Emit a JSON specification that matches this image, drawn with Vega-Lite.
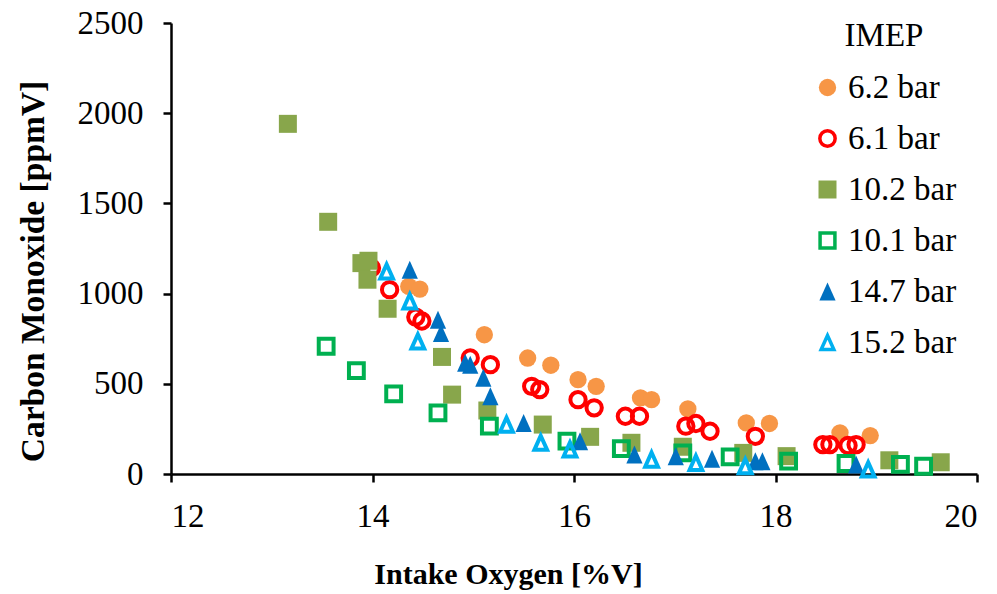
{
  "$schema": "https://vega.github.io/schema/vega-lite/v6.json",
  "width": 806,
  "height": 451,
  "autosize": {"type": "none"},
  "padding": {"left": 171, "top": 23, "right": 20, "bottom": 120},
  "background": "white",
  "config": {
    "view": {"stroke": null},
    "font": "Liberation Serif",
    "axis": {"grid": false, "domainColor": "black", "domainWidth": 2.5, "tickColor": "black", "tickWidth": 2.5, "tickSize": 8, "labelColor": "black", "titleColor": "black", "labelFont": "Liberation Serif", "titleFont": "Liberation Serif", "labelFontSize": 33, "titleFontWeight": "bold"},
    "legend": {"labelFont": "Liberation Serif", "titleFont": "Liberation Serif", "labelColor": "black", "titleColor": "black"}
  },
  "data": {"values": [
    {"imep": "6.2 bar", "o2": 14.36, "co": 1040},
    {"imep": "6.2 bar", "o2": 14.47, "co": 1025},
    {"imep": "6.2 bar", "o2": 15.11, "co": 772},
    {"imep": "6.2 bar", "o2": 15.54, "co": 643},
    {"imep": "6.2 bar", "o2": 15.77, "co": 603},
    {"imep": "6.2 bar", "o2": 16.04, "co": 523},
    {"imep": "6.2 bar", "o2": 16.22, "co": 486},
    {"imep": "6.2 bar", "o2": 16.66, "co": 422},
    {"imep": "6.2 bar", "o2": 16.77, "co": 412},
    {"imep": "6.2 bar", "o2": 17.13, "co": 361},
    {"imep": "6.2 bar", "o2": 17.71, "co": 283},
    {"imep": "6.2 bar", "o2": 17.94, "co": 280},
    {"imep": "6.2 bar", "o2": 18.64, "co": 228},
    {"imep": "6.2 bar", "o2": 18.94, "co": 213},
    {"imep": "6.1 bar", "o2": 13.99, "co": 1142},
    {"imep": "6.1 bar", "o2": 14.17, "co": 1022},
    {"imep": "6.1 bar", "o2": 14.43, "co": 870},
    {"imep": "6.1 bar", "o2": 14.49, "co": 848},
    {"imep": "6.1 bar", "o2": 14.97, "co": 643},
    {"imep": "6.1 bar", "o2": 15.17, "co": 606},
    {"imep": "6.1 bar", "o2": 15.58, "co": 486},
    {"imep": "6.1 bar", "o2": 15.66, "co": 468},
    {"imep": "6.1 bar", "o2": 16.04, "co": 412},
    {"imep": "6.1 bar", "o2": 16.2, "co": 367},
    {"imep": "6.1 bar", "o2": 16.51, "co": 320},
    {"imep": "6.1 bar", "o2": 16.65, "co": 320},
    {"imep": "6.1 bar", "o2": 17.11, "co": 265},
    {"imep": "6.1 bar", "o2": 17.21, "co": 280},
    {"imep": "6.1 bar", "o2": 17.35, "co": 237},
    {"imep": "6.1 bar", "o2": 17.8, "co": 209},
    {"imep": "6.1 bar", "o2": 18.47, "co": 163},
    {"imep": "6.1 bar", "o2": 18.54, "co": 163},
    {"imep": "6.1 bar", "o2": 18.72, "co": 158},
    {"imep": "6.1 bar", "o2": 18.8, "co": 163},
    {"imep": "10.2 bar", "o2": 13.16, "co": 1941},
    {"imep": "10.2 bar", "o2": 13.56, "co": 1398},
    {"imep": "10.2 bar", "o2": 13.89, "co": 1169},
    {"imep": "10.2 bar", "o2": 13.96, "co": 1182},
    {"imep": "10.2 bar", "o2": 13.95, "co": 1077},
    {"imep": "10.2 bar", "o2": 14.15, "co": 916},
    {"imep": "10.2 bar", "o2": 14.69, "co": 649},
    {"imep": "10.2 bar", "o2": 14.79, "co": 440},
    {"imep": "10.2 bar", "o2": 15.14, "co": 352},
    {"imep": "10.2 bar", "o2": 15.69, "co": 274},
    {"imep": "10.2 bar", "o2": 16.16, "co": 206},
    {"imep": "10.2 bar", "o2": 16.57, "co": 173},
    {"imep": "10.2 bar", "o2": 17.08, "co": 151},
    {"imep": "10.2 bar", "o2": 17.68, "co": 117},
    {"imep": "10.2 bar", "o2": 18.11, "co": 99},
    {"imep": "10.2 bar", "o2": 19.13, "co": 76},
    {"imep": "10.2 bar", "o2": 19.64, "co": 65},
    {"imep": "10.1 bar", "o2": 13.54, "co": 708},
    {"imep": "10.1 bar", "o2": 13.84, "co": 573},
    {"imep": "10.1 bar", "o2": 14.21, "co": 444},
    {"imep": "10.1 bar", "o2": 14.65, "co": 339},
    {"imep": "10.1 bar", "o2": 15.16, "co": 265},
    {"imep": "10.1 bar", "o2": 15.93, "co": 182},
    {"imep": "10.1 bar", "o2": 16.47, "co": 141},
    {"imep": "10.1 bar", "o2": 17.08, "co": 117},
    {"imep": "10.1 bar", "o2": 17.55, "co": 95},
    {"imep": "10.1 bar", "o2": 18.13, "co": 71},
    {"imep": "10.1 bar", "o2": 18.7, "co": 58},
    {"imep": "10.1 bar", "o2": 19.24, "co": 53},
    {"imep": "10.1 bar", "o2": 19.47, "co": 43},
    {"imep": "14.7 bar", "o2": 14.37, "co": 1132},
    {"imep": "14.7 bar", "o2": 14.65, "co": 855},
    {"imep": "14.7 bar", "o2": 14.68, "co": 782},
    {"imep": "14.7 bar", "o2": 14.92, "co": 616},
    {"imep": "14.7 bar", "o2": 14.97, "co": 606},
    {"imep": "14.7 bar", "o2": 15.1, "co": 533},
    {"imep": "14.7 bar", "o2": 15.17, "co": 431},
    {"imep": "14.7 bar", "o2": 15.5, "co": 283},
    {"imep": "14.7 bar", "o2": 16.06, "co": 182},
    {"imep": "14.7 bar", "o2": 16.6, "co": 108},
    {"imep": "14.7 bar", "o2": 17.01, "co": 99},
    {"imep": "14.7 bar", "o2": 17.37, "co": 84},
    {"imep": "14.7 bar", "o2": 17.8, "co": 71},
    {"imep": "14.7 bar", "o2": 17.87, "co": 71},
    {"imep": "14.7 bar", "o2": 18.8, "co": 53},
    {"imep": "15.2 bar", "o2": 14.14, "co": 1123},
    {"imep": "15.2 bar", "o2": 14.37, "co": 957},
    {"imep": "15.2 bar", "o2": 14.45, "co": 735},
    {"imep": "15.2 bar", "o2": 15.33, "co": 274},
    {"imep": "15.2 bar", "o2": 15.67, "co": 173},
    {"imep": "15.2 bar", "o2": 15.96, "co": 136},
    {"imep": "15.2 bar", "o2": 16.77, "co": 80},
    {"imep": "15.2 bar", "o2": 17.21, "co": 62},
    {"imep": "15.2 bar", "o2": 17.7, "co": 43},
    {"imep": "15.2 bar", "o2": 18.92, "co": 25}
  ]},
  "mark": {"type": "point", "strokeWidth": 4, "opacity": 1},
  "encoding": {
    "x": {"field": "o2", "type": "quantitative", "title": "Intake Oxygen [%V]",
      "scale": {"domain": [12, 20], "nice": false},
      "axis": {"values": [12, 14, 16, 18, 20], "labelPadding": 18, "titlePadding": 26, "titleFontSize": 30, "titleX": 337}},
    "y": {"field": "co", "type": "quantitative", "title": "Carbon Monoxide [ppmV]",
      "scale": {"domain": [0, 2500], "nice": false},
      "axis": {"values": [0, 500, 1000, 1500, 2000, 2500], "format": "d", "labelPadding": 20, "titlePadding": 27, "titleFontSize": 33.5, "titleY": 248}},
    "shape": {"field": "imep", "type": "nominal", "title": "IMEP",
      "scale": {"domain": ["6.2 bar", "6.1 bar", "10.2 bar", "10.1 bar", "14.7 bar", "15.2 bar"],
        "range": ["circle", "circle", "square", "square", "M0,-1L0.9,1L-0.9,1Z", "M0,-1L0.9,1L-0.9,1Z"]},
      "legend": {"orient": "none", "legendX": 640, "legendY": -3, "titleFontSize": 33, "titleFontWeight": "normal", "titleAnchor": "middle", "titlePadding": 18, "labelFontSize": 33, "labelOffset": 4, "symbolStrokeWidth": 3.5, "rowPadding": 17}},
    "fill": {"field": "imep", "type": "nominal", "title": "IMEP",
      "scale": {"domain": ["6.2 bar", "6.1 bar", "10.2 bar", "10.1 bar", "14.7 bar", "15.2 bar"],
        "range": ["#F79646", "transparent", "#88A64B", "transparent", "#0070C0", "transparent"]},
      "legend": {"orient": "none", "legendX": 640, "legendY": -3, "titleFontSize": 33, "titleFontWeight": "normal", "titleAnchor": "middle", "titlePadding": 18, "labelFontSize": 33, "labelOffset": 4, "symbolStrokeWidth": 3.5, "rowPadding": 17}},
    "stroke": {"field": "imep", "type": "nominal", "title": "IMEP",
      "scale": {"domain": ["6.2 bar", "6.1 bar", "10.2 bar", "10.1 bar", "14.7 bar", "15.2 bar"],
        "range": ["transparent", "#FF0000", "transparent", "#00B050", "transparent", "#00B0F0"]},
      "legend": {"orient": "none", "legendX": 640, "legendY": -3, "titleFontSize": 33, "titleFontWeight": "normal", "titleAnchor": "middle", "titlePadding": 18, "labelFontSize": 33, "labelOffset": 4, "symbolStrokeWidth": 3.5, "rowPadding": 17}},
    "size": {"field": "imep", "type": "nominal", "title": "IMEP",
      "scale": {"type": "ordinal", "domain": ["6.2 bar", "6.1 bar", "10.2 bar", "10.1 bar", "14.7 bar", "15.2 bar"],
        "range": [300, 235, 324, 220, 324, 200]},
      "legend": {"orient": "none", "legendX": 640, "legendY": -3, "titleFontSize": 33, "titleFontWeight": "normal", "titleAnchor": "middle", "titlePadding": 18, "labelFontSize": 33, "labelOffset": 4, "symbolStrokeWidth": 3.5, "rowPadding": 17}}
  }
}
